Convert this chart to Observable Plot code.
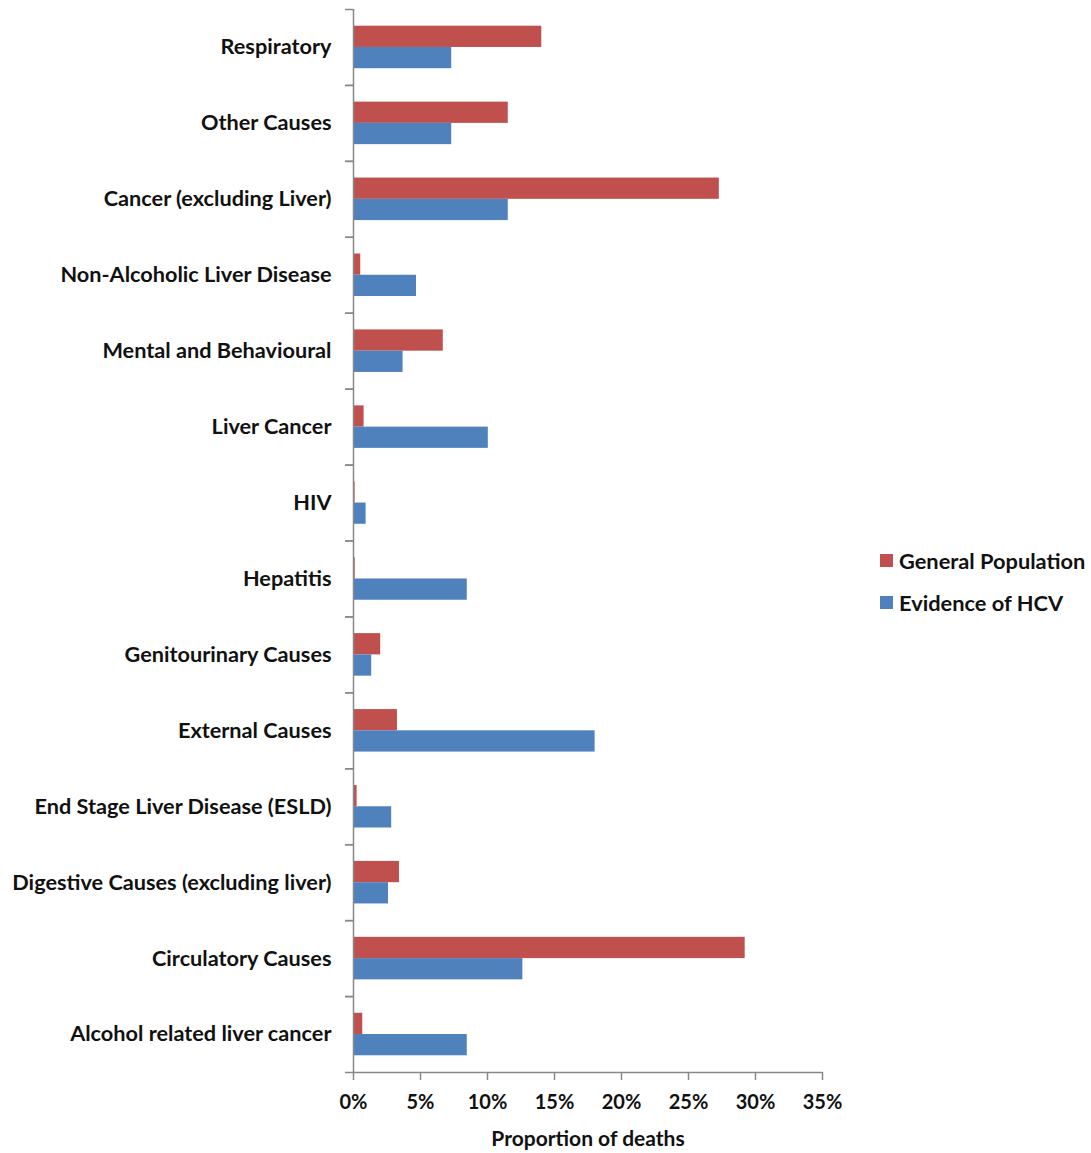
<!DOCTYPE html>
<html>
<head>
<meta charset="utf-8">
<script src="https://cdn.jsdelivr.net/npm/d3@7"></script>
<script src="https://cdn.jsdelivr.net/npm/@observablehq/plot@0.6"></script>
<style>
  html, body { margin: 0; padding: 0; background: #fff; }
  #wrap { position: relative; width: 1091px; height: 1153px; font-family: Lato, "Open Sans", sans-serif; }
  #legend { position: absolute; left: 880px; top: 549px; font-weight: bold; font-size: 21.8px; color: #111; }
  .item { display: flex; align-items: center; height: 22px; margin-bottom: 20px; white-space: nowrap; }
  .sw { width: 13px; height: 13px; margin-right: 6px; flex: none; }
</style>
</head>
<body>
<div id="wrap">
  <div id="chart"></div>
  <div id="legend"></div>
</div>
<script>
const categories = [
  "Respiratory",
  "Other Causes",
  "Cancer (excluding Liver)",
  "Non-Alcoholic Liver Disease",
  "Mental and Behavioural",
  "Liver Cancer",
  "HIV",
  "Hepatitis",
  "Genitourinary Causes",
  "External Causes",
  "End Stage Liver Disease (ESLD)",
  "Digestive Causes (excluding liver)",
  "Circulatory Causes",
  "Alcohol related liver cancer"
];
const seriesNames = ["General Population", "Evidence of HCV"];
const generalPopulation = [0.1405, 0.1155, 0.273, 0.0054, 0.067, 0.0079, 0.0012, 0.0013, 0.0203, 0.0328, 0.0027, 0.0343, 0.2923, 0.0069];
const evidenceHCV       = [0.0733, 0.0733, 0.1155, 0.047, 0.037, 0.1006, 0.0094, 0.0849, 0.0136, 0.1803, 0.0285, 0.0261, 0.1264, 0.0849];
const xTicks = [0, 0.05, 0.10, 0.15, 0.20, 0.25, 0.30, 0.35];
const colors = ["#C0504D", "#4F81BD"];

const rowsGP = categories.map((c, i) => ({cause: c, value: generalPopulation[i]}));
const rowsHCV = categories.map((c, i) => ({cause: c, value: evidenceHCV[i]}));

const W = 1091, H = 1153;
const mTop = 9, mBottom = 81, mLeft = 353, mRight = 269;
const step = (H - mTop - mBottom) / categories.length;
const padInner = 0.44;
const bw = step * (1 - padInner);
const gray = "#888888";
const ink = "#111111";
const font = "Lato, 'Open Sans', sans-serif";

const chart = Plot.plot({
  width: W,
  height: H,
  marginTop: mTop,
  marginBottom: mBottom,
  marginLeft: mLeft,
  marginRight: mRight,
  style: {fontFamily: font, background: "white"},
  x: {domain: [0, 0.35]},
  y: {domain: categories, paddingInner: padInner, paddingOuter: padInner / 2, round: false, label: null},
  marks: [
    Plot.barX(rowsGP, {x: "value", y: "cause", fill: colors[0], insetBottom: bw / 2}),
    Plot.barX(rowsHCV, {x: "value", y: "cause", fill: colors[1], insetTop: bw / 2}),
    Plot.ruleX([0], {stroke: gray, strokeWidth: 1.5}),
    Plot.ruleY([categories[categories.length - 1]], {y: d => d, dy: step / 2, stroke: gray, strokeWidth: 1.5}),
    Plot.axisY({tickSize: 0, tickPadding: 22, fontSize: 21.7, fontWeight: "bold", fill: ink, label: null}),
    Plot.axisY({tickSize: 8, tickFormat: () => "", dy: -step / 2, stroke: gray, strokeWidth: 1.5, label: null}),
    Plot.axisY({tickSize: 8, tickFormat: () => "", dy: step / 2, stroke: gray, strokeWidth: 1.5, label: null}),
    Plot.axisX({
      ticks: xTicks,
      tickFormat: d3.format(".0%"),
      tickSize: 8,
      tickPadding: 14,
      stroke: gray,
      strokeWidth: 1.5,
      fill: ink,
      fontSize: 20,
      fontWeight: "bold",
      label: null
    }),
    Plot.axisX({
      ticks: [],
      fill: ink,
      fontSize: 21,
      fontWeight: "bold",
      label: "Proportion of deaths",
      labelAnchor: "center",
      labelArrow: "none",
      labelOffset: 73
    })
  ]
});
document.getElementById("chart").appendChild(chart);

const legend = document.getElementById("legend");
seriesNames.forEach((name, i) => {
  const item = document.createElement("div");
  item.className = "item";
  const sw = document.createElement("span");
  sw.className = "sw";
  sw.style.background = colors[i];
  const t = document.createElement("span");
  t.textContent = name;
  item.appendChild(sw);
  item.appendChild(t);
  legend.appendChild(item);
});
</script>
</body>
</html>
